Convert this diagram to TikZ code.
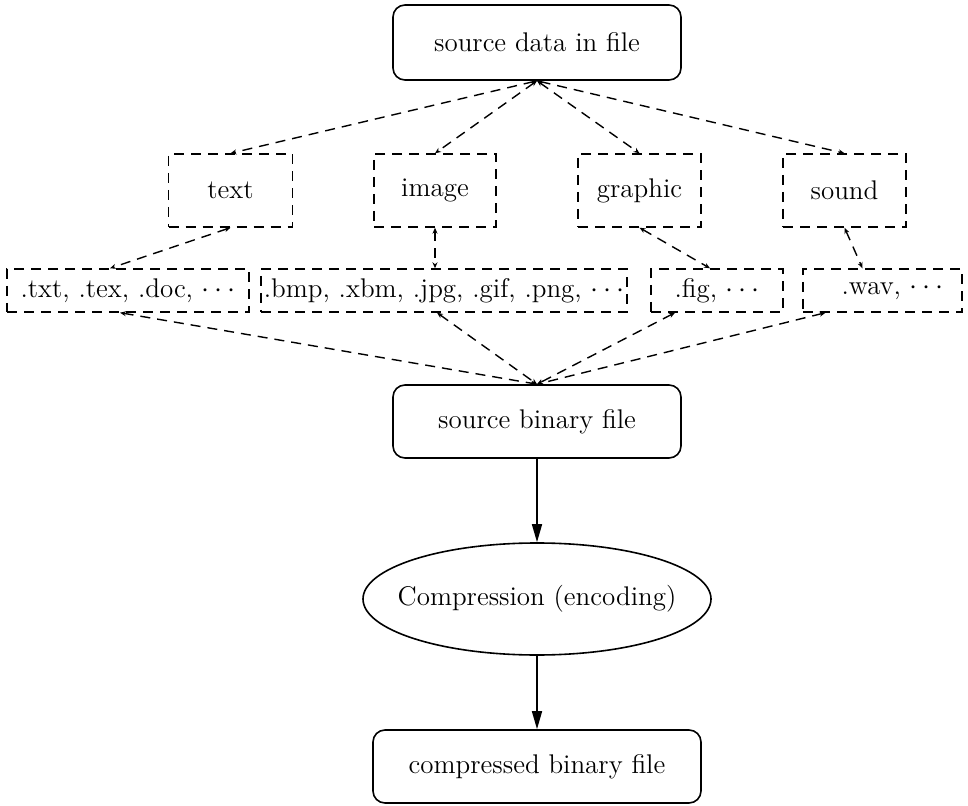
\documentclass[tikz,border=0pt]{standalone}
\usetikzlibrary{arrows.meta,shapes.geometric}
\begin{document}
\begin{tikzpicture}[x=0.5pt,y=-0.5pt,
  font=\fontsize{13.5}{16}\selectfont,
  rbox/.style={draw, rounded corners=6pt, line width=0.8pt, inner sep=0pt, minimum height=36.5pt},
  dbox/.style={draw, dash pattern=on 5pt off 3.5pt, line width=0.7pt, inner sep=0pt},
  dline/.style={dash pattern=on 5pt off 3.5pt, line width=0.7pt,
    {Stealth[length=3pt,width=2.5pt]}-{Stealth[length=3pt,width=2.5pt]}},
  sarrow/.style={line width=0.8pt, -{Triangle[length=9pt,width=5pt]}}]
\useasboundingbox (0,0) rectangle (968,806);

% main boxes
\node[rbox, minimum width=144pt, minimum height=37.5pt] (src) at (537,42.5) {source data in file};
\node[rbox, minimum width=144pt] (bin) at (537,421.5) {source binary file};
\node[draw, ellipse, line width=0.8pt, inner sep=0pt, minimum width=174pt, minimum height=56pt] (comp) at (537,599) {\makebox[0pt]{Compression (encoding)}};
\node[rbox, minimum width=164pt] (out) at (537,766.5) {compressed binary file};

% categories
\node[dbox, minimum width=62pt, minimum height=36.5pt] (text) at (230.5,190.5) {text};
\node[dbox, minimum width=61pt, minimum height=36.5pt] (image) at (435,190.5) {image};
\node[dbox, minimum width=61.5pt, minimum height=36.5pt] (graphic) at (639.5,190.5) {graphic};
\node[dbox, minimum width=61.5pt, minimum height=36.5pt] (sound) at (844.5,190.5) {sound};

% extensions
\node[dbox, minimum width=121pt, minimum height=21.5pt] (e1) at (128,290.5) {.txt, .tex, .doc, $\cdots$};
\node[dbox, minimum width=183pt, minimum height=21.5pt] (e2) at (444,290.5) {.bmp, .xbm, .jpg, .gif, .png, $\cdots$};
\node[dbox, minimum width=66pt, minimum height=21.5pt] (e3) at (717,290.5) {.fig, $\cdots$};
\node[dbox, minimum width=79.5pt, minimum height=21.5pt] (e4) at (882.5,290.5) {\hspace*{10pt}.wav, $\cdots$};

% dashed connectors, top
\draw[dline] (src.south) -- (text.north);
\draw[dline] (src.south) -- (image.north);
\draw[dline] (src.south) -- (graphic.north);
\draw[dline] (src.south) -- (sound.north);

% dashed connectors, middle
\draw[dline] (text.south) -- ([xshift=-9pt]e1.north);
\draw[dline] (image.south) -- ([xshift=-4.5pt]e2.north);
\draw[dline] (graphic.south) -- ([xshift=-3.5pt]e3.north);
\draw[dline] (sound.south) -- ([xshift=-10pt]e4.north);

% dashed connectors, bottom
\draw[dline] ([xshift=-4pt]e1.south) -- (bin.north);
\draw[dline] ([xshift=-3.5pt]e2.south) -- (bin.north);
\draw[dline] ([xshift=-21pt]e3.south) -- (bin.north);
\draw[dline] ([xshift=-28.5pt]e4.south) -- (bin.north);

% solid arrows
\draw[sarrow] (bin.south) -- (comp.north);
\draw[sarrow] (comp.south) -- (out.north);
\end{tikzpicture}
\end{document}
